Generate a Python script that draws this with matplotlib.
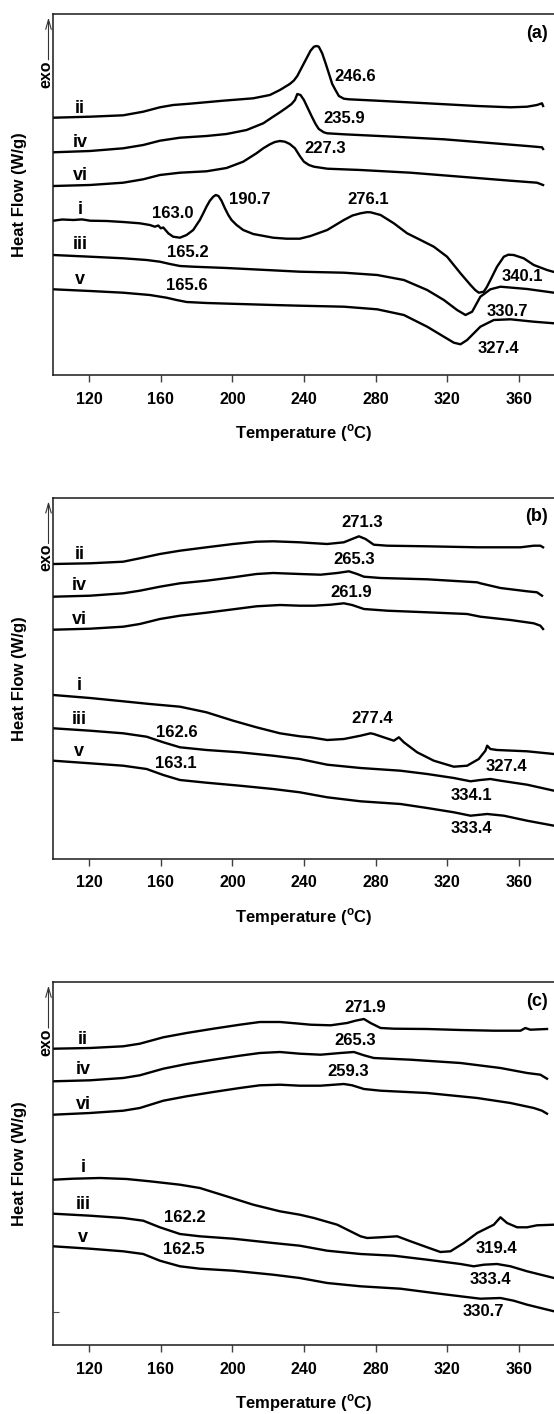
import matplotlib.pyplot as plt

plt.rcParams['font.family'] = 'Liberation Sans'
plt.rcParams['font.weight'] = 'bold'
plt.rcParams['axes.labelweight'] = 'bold'
plt.rcParams['mathtext.fontset'] = 'custom'
plt.rcParams['mathtext.rm'] = 'Liberation Sans:bold'
plt.rcParams['mathtext.bf'] = 'Liberation Sans:bold'

# ---- panel (a) ----
a_ii_T = [100, 120.5, 139, 150.2, 159.5, 166.9, 176.2, 194.8, 211.6, 220.9, 226.5, 232, 234.3, 236.2, 239.9, 243.6,
          245.5, 247, 248.2, 250.1, 252, 253.8, 255.7, 257.5, 259.4, 262.2, 265, 280.8, 308.7, 336.6, 355.2, 364.5,
          370, 372.8, 373.4]
a_ii_h = [257.3, 258.3, 259.7, 263.3, 267.7, 270, 271.3, 274.3, 276.7, 280, 285, 291, 294.5, 299, 311.7, 324.3,
          328.3, 329, 328.3, 321.7, 311.7, 301.7, 291, 285, 279, 276.3, 275.7, 274.3, 271.7, 269, 267.7, 268.3,
          270, 271.7, 269]
a_iv_T = [100, 120.5, 139, 150.2, 159.5, 170.7, 185.5, 196.7, 207.9, 217.2, 222.7, 226.5, 230.2, 233, 234.9, 236.2,
          238, 239.9, 242.1, 244.5, 246.4, 248.2, 251, 252.9, 262.2, 290.1, 318, 345.9, 364.5, 372.8, 373.4]
a_iv_h = [222.7, 224, 226.7, 230, 234.3, 237.3, 239, 241, 245, 251.7, 258.3, 262.7, 267.3, 271, 275, 281,
          280, 275, 266.7, 257.7, 251, 246, 242.7, 241.7, 240.7, 238.3, 235.7, 231.7, 229, 227.7, 226]
a_vi_T = [100, 120.5, 139, 150.2, 159.5, 170.7, 185.5, 196.7, 206, 213.4, 217.2, 220.9, 223.7, 226.5, 229.3, 232,
          234.9, 237.6, 239.9, 242.7, 245.5, 252.9, 271.5, 299.4, 327.3, 355.2, 370, 373.4]
a_vi_h = [189, 190, 192.3, 195.7, 200, 202.3, 203.7, 207, 213.3, 221.7, 226.7, 230.7, 233, 234, 233.3, 231,
          226.7, 219, 213.3, 210, 208.3, 206.3, 205, 202.3, 198.3, 194.3, 192.3, 190]
a_i_T = [100, 105, 111.2, 116, 120.5, 129.8, 139, 148.3, 153.9, 156.7, 158.6, 160, 161.4, 164.2, 166.9, 170.7, 174.4,
         178.1, 181.8, 183.7, 185.5, 187.4, 189.3, 190.7, 192.2, 193.9, 195.8, 197.7, 199.5, 202.3, 206, 211.6,
         222.7, 230.2, 237.6, 243.6, 252.9, 262.2, 267, 271.5, 275, 277.1, 282.7, 290.1, 297.5, 305, 312.4, 319.8,
         327.3, 332.9, 335.5, 337.5, 340.3, 342, 344, 347.7, 351.5, 354, 357, 362.6, 368.2, 375.6, 379.5]
a_i_h = [154.3, 155.5, 155, 155.6, 154.3, 154, 153, 151.7, 150, 148.3, 149.5, 146.7, 147.5, 141.7, 138.3, 137.3, 140,
         145, 155, 161.7, 168.3, 174.3, 178.3, 180, 179, 174.3, 166.7, 160, 155, 150, 145, 141,
         137.3, 136.3, 136.3, 139, 145, 155, 159.5, 161.7, 162.8, 162.7, 160, 151.7, 141.7, 135, 128.3, 118.3,
         101.7, 90, 85, 82.3, 83.3, 88, 95, 108.3, 118.3, 120.3, 120, 116.7, 110, 105, 103]
a_iii_T = [100, 120.5, 139, 152.1, 159.5, 165.1, 170.7, 178.1, 196.7, 219, 237.6, 262.2, 280.8, 295.7, 308.7, 318,
           325.4, 330.1, 333.8, 338.4, 344, 349.6, 364.5, 379.5]
a_iii_h = [120, 118.3, 116.7, 115, 113.3, 111, 109, 108.3, 107, 105, 103.3, 102.3, 100, 95, 85, 75,
           65, 60, 63.3, 78.3, 85.7, 88.3, 86, 82.3]
a_v_T = [100, 120.5, 139, 153.9, 163.2, 168.8, 174.4, 185.5, 204.1, 222.7, 237.6, 262.2, 280.8, 295.7, 308.7, 318,
         323.6, 327.3, 331, 338.4, 345.9, 355.2, 368.2, 379.5]
a_v_h = [85.7, 84, 82.3, 80, 77.3, 75, 73, 72, 71, 70, 69.3, 68.3, 65.7, 60, 48.3, 38.3,
         32.3, 30.7, 35, 48.3, 55, 55.7, 53.3, 51.7]

# ---- panel (b) ----
b_ii_T = [100, 120.5, 139, 148.3, 159.5, 170.7, 185.5, 200.4, 213.4, 222.7, 237.6, 243.6, 252.9, 262.2, 266.8, 270.6,
          274.3, 278.9, 286.4, 308.7, 336.6, 360.8, 368.2, 371.9, 373.4]
b_ii_h = [294.7, 295.4, 297, 300.4, 304.7, 308, 311.4, 314.7, 317, 317.4, 316.4, 315.7, 314.7, 316.4, 319.7, 322.4,
          319.7, 314, 313, 312.4, 311.4, 311.4, 313, 313, 311.4]
b_iv_T = [100, 120.5, 139, 148.3, 159.5, 170.7, 185.5, 200.4, 213.4, 222.7, 237.6, 249.2, 258.5, 265, 269.6, 273.4,
          282.7, 308.7, 336.6, 338.4, 349.6, 364.5, 370, 372.8]
b_iv_h = [262, 263, 265.4, 268, 272, 275.4, 278, 281.4, 284.7, 285.7, 284.7, 284, 285.7, 287.4, 284.7, 282,
          280.7, 279.4, 276.4, 275.4, 270.7, 267.4, 266.4, 263]
b_vi_T = [100, 120.5, 139, 148.3, 159.5, 170.7, 185.5, 200.4, 213.4, 226.5, 237.6, 245.5, 254.8, 262.2, 266.8, 273.4,
          286.4, 308.7, 331, 338.4, 355.2, 368.2, 371.9, 373.4]
b_vi_h = [229, 230, 232, 234.7, 239.7, 243, 246, 249.4, 252.4, 253.7, 253, 253, 254, 255.4, 253.7, 249.7,
          248, 246.4, 244.7, 242, 238.7, 235.4, 233, 229.7]
b_i_T = [100, 120.5, 139, 153.9, 170.7, 185.5, 200.4, 213.4, 226.5, 237.6, 243.6, 252.9, 262.2, 271.5, 277.1, 278.9,
         290.1, 292.9, 295.7, 303.1, 312.4, 323.6, 331, 337.5, 341.2, 342.2, 344, 347.7, 364.5, 379.5]
b_i_h = [163.7, 160.7, 157.4, 154.7, 152, 146.4, 138, 131.4, 125.4, 122.4, 121.4, 118.7, 119.7, 123, 125.4, 124.7,
         118, 121.4, 116.4, 106.4, 98, 92, 93, 99.7, 108, 113, 109.7, 108.7, 107.4, 104.7]
b_iii_T = [100, 120.5, 139, 152.1, 161.4, 170.7, 185.5, 204.1, 222.7, 237.6, 252.9, 271.5, 293.8, 308.7, 323.6,
           332.9, 338.4, 344, 349.6, 364.5, 379.5]
b_iii_h = [130.4, 128, 125.4, 122, 116.4, 111.4, 108.7, 106.4, 103, 99.7, 94, 90.7, 88, 84.7, 80.7,
           77.4, 78.7, 79.7, 78, 74, 68]
b_v_T = [100, 120.5, 139, 152.1, 161.4, 170.7, 185.5, 204.1, 222.7, 237.6, 252.9, 271.5, 293.8, 308.7, 323.6, 332.9,
         342.2, 351.5, 364.5, 379.5]
b_v_h = [98, 95.4, 93, 89.7, 83.7, 78.7, 76, 73, 69.7, 66.4, 61.4, 57.4, 54.7, 50.7, 46.4, 43,
         44.7, 43, 38, 33]

# ---- panel (c) ----
c_ii_T = [100, 120.5, 139, 148.3, 161.4, 174.4, 189.3, 204.1, 215.3, 226.5, 237.6, 243.6, 254.8, 264, 268.7, 273.4,
          277.1, 282.7, 290.1, 308.7, 327.3, 345.9, 360.8, 363.5, 366.3, 375.6]
c_ii_h = [296.3, 297, 298.7, 301.3, 307.7, 312, 316.3, 320.3, 323, 323, 321.3, 320.3, 319.7, 322, 324.3, 326,
          322, 317, 316.3, 316, 315, 314.3, 314.3, 317, 315.3, 316]
c_iv_T = [100, 120.5, 139, 148.3, 161.4, 174.4, 189.3, 204.1, 215.3, 226.5, 237.6, 249.2, 260.3, 267.8, 273.4, 278.9,
          299.4, 327.3, 349.6, 364.5, 371.9, 375.6]
c_iv_h = [263.7, 264.7, 267, 269.7, 276.3, 281, 285.3, 289.3, 292, 293, 291.3, 290.3, 292, 293, 289.7, 287,
          285.3, 282, 277, 272, 270.3, 266.3]
c_vi_T = [100, 120.5, 139, 148.3, 161.4, 174.4, 189.3, 204.1, 215.3, 226.5, 237.6, 249.2, 262.2, 266.8, 273.4, 282.7,
          308.7, 336.6, 355.2, 368.2, 372.8, 375.6]
c_vi_h = [230.3, 232, 234.3, 237, 244.3, 248.7, 253, 257, 259.7, 260.3, 259.3, 259.3, 261, 259.7, 256, 254.3,
          252, 247, 242, 237, 234.3, 231.3]
c_i_T = [100, 111.2, 126, 140.9, 153.9, 170.7, 181.8, 196.7, 211.6, 226.5, 237.6, 245.5, 258.5, 265.9, 271.5, 275.2,
         282.7, 292, 299.4, 308.7, 316.1, 321.7, 329.1, 336.6, 345.9, 349.6, 353.3, 358.9, 364.5, 370, 379.5]
c_i_h = [165.3, 166.3, 167, 166, 163.7, 160.3, 157, 148.7, 140.3, 133.7, 130.3, 127, 120.3, 113.7, 108.7, 107,
         107.7, 108.7, 103.7, 97.7, 93, 93.7, 102, 112, 120.3, 127.7, 122, 117.7, 117.7, 119.7, 120.3]
c_iii_T = [100, 120.5, 139, 150.2, 159.5, 170.7, 181.8, 200.4, 222.7, 237.6, 252.9, 271.5, 290.1, 308.7, 327.3,
           334.7, 340.3, 347.7, 355.2, 364.5, 379.5]
c_iii_h = [131.3, 129.3, 127, 124.3, 117.7, 111, 108.7, 106.3, 102, 99.3, 94.3, 91, 89.3, 85.3, 81,
           78.7, 80.3, 81, 78.7, 73.7, 67]
c_v_T = [100, 120.5, 139, 150.2, 159.5, 170.7, 181.8, 200.4, 222.7, 237.6, 252.9, 271.5, 293.8, 312.4, 327.3, 338.4,
         349.6, 357, 364.5, 379.5]
c_v_h = [98.7, 96.3, 93.7, 91, 84.3, 78.7, 76.3, 74.3, 70.3, 67, 62, 58.7, 56.3, 52, 48.7, 46.3,
         47, 44.3, 40.3, 33.7]

# curve labels and peak labels: (text, T, h)
a_names = [('ii', 114.9, 266.7), ('iv', 114.9, 232.7), ('vi', 114.9, 199.3),
           ('i', 114.9, 165), ('iii', 114.9, 130.7), ('v', 114.9, 95)]
a_peaks = [('246.6', 268.7, 298.3), ('235.9', 262.2, 256.7), ('227.3', 251.6, 226.7),
           ('190.7', 209.7, 175), ('163.0', 166.9, 161.7), ('276.1', 275.6, 175),
           ('165.2', 174.9, 122.7), ('165.6', 174.4, 89), ('340.1', 362.1, 98.3),
           ('330.7', 353.3, 64), ('327.4', 348.7, 26.7)]
b_names = [('ii', 114.5, 304.7), ('iv', 114.5, 273), ('vi', 114.5, 239.7),
           ('i', 114.5, 173), ('iii', 114.5, 139.7), ('v', 114.5, 107.4)]
b_peaks = [('271.3', 272.4, 336.4), ('265.3', 267.8, 299.7), ('261.9', 266.3, 266.4),
           ('277.4', 278, 140.7), ('327.4', 352.8, 92), ('334.1', 333.4, 63.7),
           ('333.4', 333.4, 30.4), ('162.6', 169.2, 126.4), ('163.1', 168.2, 95.4)]
c_names = [('ii', 116.7, 306), ('iv', 116.7, 276), ('vi', 116.7, 240.3),
           ('i', 116.7, 177), ('iii', 116.7, 140.3), ('v', 116.7, 107.7)]
c_peaks = [('271.9', 274.3, 337), ('265.3', 268.7, 304.7), ('259.3', 264.6, 273.7),
           ('319.4', 347.4, 96.3), ('333.4', 344, 65.3), ('330.7', 339.9, 33.7),
           ('162.2', 173.5, 127), ('162.5', 172.9, 95.3)]

panels = [
    ('(a)', 14, 375, [(a_ii_T, a_ii_h), (a_iv_T, a_iv_h), (a_vi_T, a_vi_h), (a_i_T, a_i_h),
                      (a_iii_T, a_iii_h), (a_v_T, a_v_h)], a_names, a_peaks),
    ('(b)', 497.7, 858.7, [(b_ii_T, b_ii_h), (b_iv_T, b_iv_h), (b_vi_T, b_vi_h), (b_i_T, b_i_h),
                           (b_iii_T, b_iii_h), (b_v_T, b_v_h)], b_names, b_peaks),
    ('(c)', 982, 1345, [(c_ii_T, c_ii_h), (c_iv_T, c_iv_h), (c_vi_T, c_vi_h), (c_i_T, c_i_h),
                        (c_iii_T, c_iii_h), (c_v_T, c_v_h)], c_names, c_peaks),
]

W, H = 554, 1414
left = 53.3
fig = plt.figure(figsize=(W / 100, H / 100), dpi=100)

for tag, top, bottom, curves, names, peaks in panels:
    ax = fig.add_axes([left / W, 1 - bottom / H, 1 - left / W, (bottom - top) / H])
    for T, h in curves:
        ax.plot(T, h, color='black', lw=1.7, solid_joinstyle='round')
    for txt, x, y in names:
        ax.text(x, y, txt, ha='center', va='center', fontsize=13)
    for txt, x, y in peaks:
        ax.text(x, y, txt, ha='center', va='center', fontsize=12)
    ax.text(0.987, 0.947, tag, transform=ax.transAxes, ha='right', va='center', fontsize=13)

    ax.set_xlim(100, 379.5)
    ax.set_ylim(0, bottom - top)
    ax.set_xticks([120, 160, 200, 240, 280, 320, 360])
    ax.tick_params(axis='x', direction='out', length=5, width=1, labelsize=11.5, pad=7, color='0.25')
    if tag == '(c)':
        ax.set_yticks([33])
        ax.tick_params(axis='y', direction='in', length=4, width=0.8, labelleft=False, color='0.3')
    else:
        ax.set_yticks([])
    ax.spines['right'].set_visible(False)
    for s in ['left', 'bottom', 'top']:
        ax.spines[s].set_linewidth(1.1)
        ax.spines[s].set_color('0.1')

    ax.set_xlabel(r'Temperature ($^{\mathbf{o}}$C)', fontsize=12)
    ax.xaxis.set_label_coords(0.5, -0.161)
    ax.xaxis.label.set_va('center')
    ax.set_ylabel('Heat Flow (W/g)', fontsize=12)
    ax.yaxis.set_label_coords(-0.0677, 0.5)
    ax.yaxis.label.set_va('center')

    # exo arrow
    ax.annotate('', xy=(-0.0096, 0.99), xytext=(-0.0096, 0.873), xycoords='axes fraction',
                arrowprops=dict(arrowstyle='->,head_length=0.7,head_width=0.2', lw=0.8, color='0.2',
                                shrinkA=0, shrinkB=0), annotation_clip=False)
    ax.text(-0.0156, 0.834, 'exo', rotation=90, ha='center', va='center', transform=ax.transAxes,
            fontsize=11.5)

fig.savefig('out.png', dpi=100)
